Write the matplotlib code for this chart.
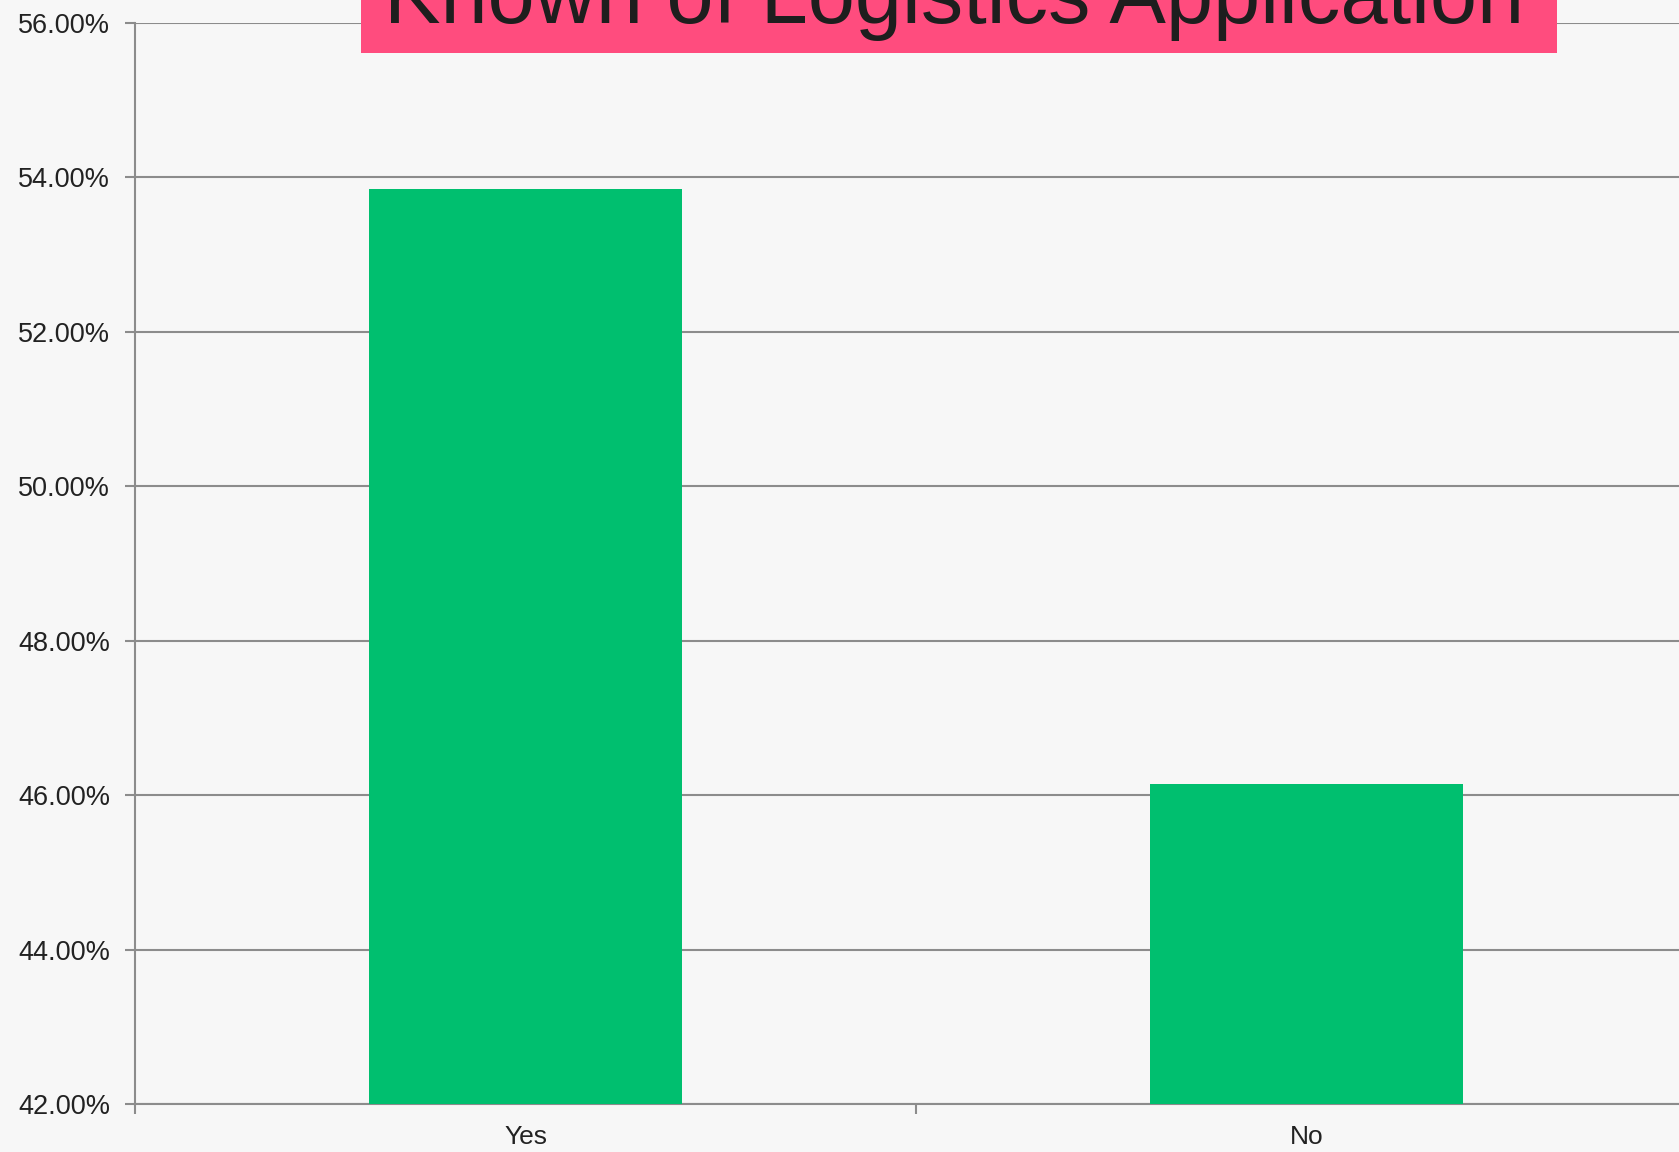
import numpy as np
import matplotlib.pyplot as plt
from matplotlib.patches import Rectangle
from matplotlib.ticker import FuncFormatter, FixedLocator

plt.rcParams['font.family'] = ['Liberation Sans', 'DejaVu Sans']

categories = ['Yes', 'No']
shares = [53.85, 46.15]  # percent
title = 'Known of Logistics Application'

bg = '#f7f7f7'
bar_color = '#00bf6f'
grid_color = '#8c8c8c'

fig = plt.figure(figsize=(16.79, 11.52), dpi=100, facecolor=bg)
ax = fig.add_axes([0.0805, 0.0415, 0.9303, 0.9385])
ax.set_facecolor(bg)

x = np.arange(len(categories))
ax.bar(x, shares, width=0.4, color=bar_color, zorder=3)

ax.set_xlim(-0.5, len(categories) - 0.5)
ax.set_ylim(42, 56)
ax.set_yticks(np.arange(42, 56.1, 2))
ax.yaxis.set_major_formatter(FuncFormatter(lambda v, p: f'{v:.2f}%'))
ax.grid(axis='y', color=grid_color, linewidth=1.5, zorder=0)

ax.set_xticks(x)
ax.set_xticklabels(categories)
ax.xaxis.set_minor_locator(FixedLocator(np.arange(-0.5, len(categories), 1.0)))
ax.tick_params(axis='x', which='major', length=0, pad=15, labelsize=19, labelcolor='#222222')
ax.tick_params(axis='x', which='minor', length=7, width=1.5, color=grid_color)
ax.tick_params(axis='y', length=7, width=1.5, color=grid_color, pad=11,
               labelsize=19.5, labelcolor='#222222')

for side in ['top', 'right']:
    ax.spines[side].set_visible(False)
for side in ['left', 'bottom']:
    ax.spines[side].set_color(grid_color)
    ax.spines[side].set_linewidth(1.5)

# title banner
fig.patches.append(Rectangle((0.215, 0.954), 0.7123, 0.1, transform=fig.transFigure,
                             facecolor='#ff4c7e', edgecolor='none', zorder=5))
fig.text(0.568, 0.98, title, ha='center', va='baseline', fontsize=61,
         color='#1e1e1e', zorder=6)

fig.savefig('out.png', dpi=100, facecolor=bg)
